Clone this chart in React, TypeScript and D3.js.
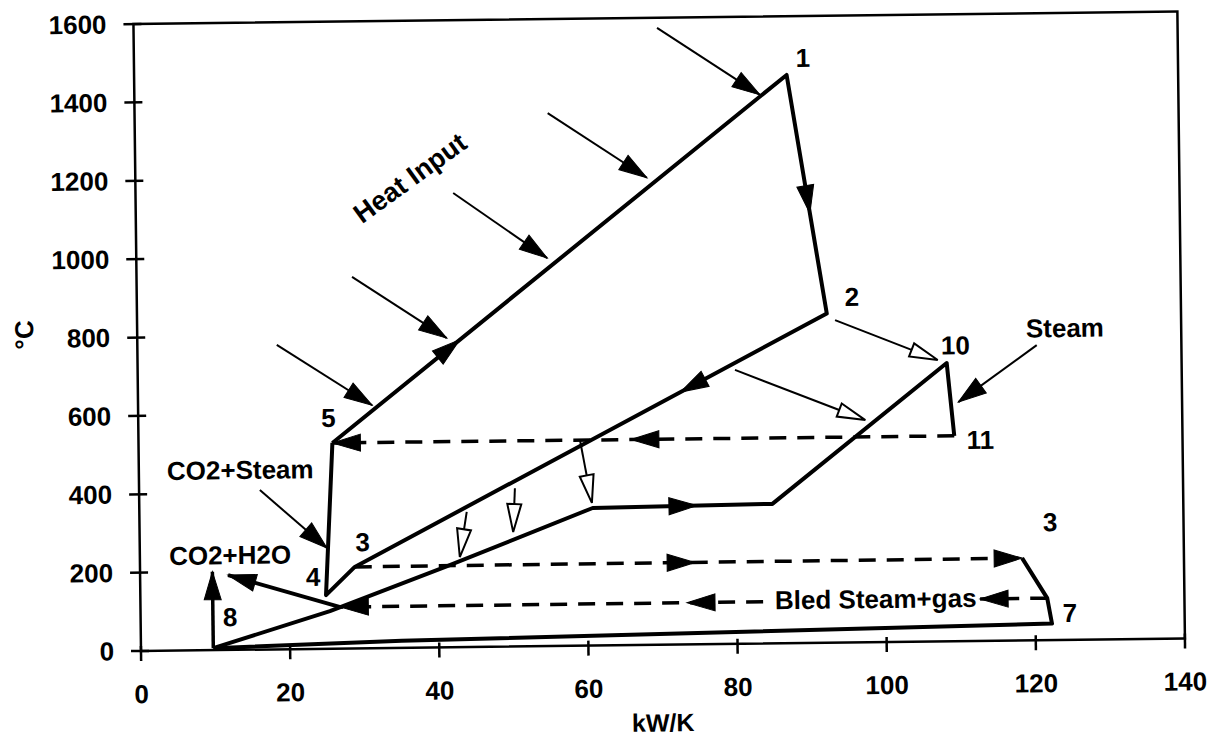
import { useEffect, useRef } from 'react';
import * as d3 from 'd3';

type Pt = [number, number];

const xTicks = [0, 20, 40, 60, 80, 100, 120, 140];
const yTicks = [0, 200, 400, 600, 800, 1000, 1200, 1400, 1600];

// gas loop: 5 -> 1 -> 2 -> 3 -> 4 -> 5
const gasLoop: Pt[] = [[26, 525], [87.5, 1450], [92.5, 840], [28.8, 208], [24.9, 137], [26, 525]];
// steam heating: 8 -> ... -> 10 -> 11
const steamLine: Pt[] = [[9.7, 5], [25.4, 96], [41.2, 207], [60.8, 351], [84.9, 356], [108.5, 710], [109.4, 524]];
// right 3 -> 7 -> 8
const returnLine: Pt[] = [[118.3, 210], [121.6, 107], [122.2, 42], [35, 18], [9.7, 5]];
// dashed: 11 -> 5, 3 -> 3, bled steam (two pieces round the label)
const dashedSteam: Pt[] = [[109.4, 524], [26, 525]];
const dashedMid: Pt[] = [[28.8, 208], [118.3, 210]];
const bledLine: Pt[] = [[121.6, 107], [112.6, 107], [83.5, 106.5], [26.8, 106]];
const co2h2o: Pt[] = [[26.8, 106], [11.8, 191]];
const riser8: Pt[] = [[9.7, 5], [9.7, 200]];

const heatArrows: [Pt, Pt][] = [
  [[70.2, 1574], [83.9, 1400]],
  [[55.4, 1360], [68.6, 1192]],
  [[42.6, 1159], [55.1, 990]],
  [[28.9, 948], [41.5, 789]],
  [[18.7, 777], [31.4, 620]],
];
const pointerArrows: [Pt, Pt][] = [
  [[120.6, 753], [110, 610]],   // Steam
  [[16.2, 407], [25.1, 257]],   // CO2+Steam
];
const hollowArrows: [Pt, Pt][] = [
  [[93.6, 823], [107.3, 718]],
  [[80.1, 699], [97.5, 567]],
  [[59.2, 525], [60.7, 364]],
  [[50.4, 404], [50.1, 292]],
  [[43.9, 345], [42.9, 230]],
];

// arrowheads sitting on the lines: segment + fraction where the tip is
const lineArrows: { a: Pt; b: Pt; t: number }[] = [
  { a: gasLoop[0], b: gasLoop[1], t: 0.28 },
  { a: gasLoop[1], b: gasLoop[2], t: 0.58 },
  { a: gasLoop[2], b: gasLoop[3], t: 0.31 },
  { a: steamLine[3], b: steamLine[4], t: 0.58 },
  { a: dashedSteam[0], b: dashedSteam[1], t: 0.52 },
  { a: dashedSteam[0], b: dashedSteam[1], t: 1 },
  { a: dashedMid[0], b: dashedMid[1], t: 0.51 },
  { a: dashedMid[0], b: dashedMid[1], t: 1 },
  { a: bledLine[0], b: bledLine[1], t: 1 },
  { a: bledLine[2], b: bledLine[3], t: 0.18 },
  { a: bledLine[2], b: bledLine[3], t: 1 },
  { a: co2h2o[0], b: co2h2o[1], t: 1 },
  { a: riser8[0], b: riser8[1], t: 1 },
];

const labels: { text: string; at: Pt }[] = [
  { text: '1', at: [89.7, 1493] },
  { text: '2', at: [95.9, 882] },
  { text: '10', at: [109.7, 755] },
  { text: '11', at: [112.9, 513] },
  { text: 'Steam', at: [124.4, 796] },
  { text: '5', at: [25.5, 589] },
  { text: 'CO2+Steam', at: [13.6, 459] },
  { text: '3', at: [29.9, 271] },
  { text: '4', at: [23.2, 184] },
  { text: 'CO2+H2O', at: [12.1, 242] },
  { text: '8', at: [12, 84] },
  { text: '3', at: [122.1, 301] },
  { text: '7', at: [124.6, 69] },
  { text: 'Bled Steam+gas', at: [98.6, 110] },
];

const FONT = '"Liberation Sans", Arial, Helvetica, sans-serif';

export default function App() {
  const svgRef = useRef<SVGSVGElement>(null);

  useEffect(() => {
    if (!svgRef.current) return;
    const svg = d3.select(svgRef.current);
    svg.selectAll('*').remove();

    const left = 141, right = 1185, top = 24, bottom = 651;
    const x = d3.scaleLinear().domain([0, 140]).range([left, right]);
    const y = d3.scaleLinear().domain([0, 1600]).range([bottom, top]);
    const px = (p: Pt): Pt => [x(p[0]), y(p[1])];

    // the scan is slightly tilted
    const g = svg.append('g').attr('transform', `rotate(-0.69 ${left} ${bottom})`);

    const line = d3.line<Pt>().x(d => x(d[0])).y(d => y(d[1]));

    const head = (tip: Pt, from: Pt, len: number, half: number, hollow = false) => {
      const dx = tip[0] - from[0], dy = tip[1] - from[1];
      const L = Math.hypot(dx, dy) || 1;
      const ux = dx / L, uy = dy / L;
      const bx = tip[0] - ux * len, by = tip[1] - uy * len;
      const pts = [tip, [bx - uy * half, by + ux * half], [bx + uy * half, by - ux * half]];
      g.append('polygon')
        .attr('points', pts.map(p => p.join(',')).join(' '))
        .attr('fill', hollow ? '#fff' : '#000')
        .attr('stroke', '#000')
        .attr('stroke-width', hollow ? 2 : 1)
        .attr('stroke-linejoin', 'miter');
      return [bx, by] as Pt;
    };

    // frame
    g.append('rect')
      .attr('x', left).attr('y', top)
      .attr('width', right - left).attr('height', bottom - top)
      .attr('fill', 'none').attr('stroke', '#000').attr('stroke-width', 2.5);

    // y ticks
    g.selectAll('.yt').data(yTicks).enter().append('line')
      .attr('x1', left - 10).attr('x2', left + 8)
      .attr('y1', d => y(d)).attr('y2', d => y(d))
      .attr('stroke', '#000').attr('stroke-width', 2.5);
    g.selectAll('.yl').data(yTicks).enter().append('text')
      .attr('x', left - 27).attr('y', d => y(d)).attr('dy', '0.35em')
      .attr('text-anchor', 'end')
      .attr('font-family', FONT).attr('font-weight', 'bold').attr('font-size', 26)
      .text(d => d);

    // x ticks
    g.selectAll('.xt').data(xTicks).enter().append('line')
      .attr('x1', d => x(d)).attr('x2', d => x(d))
      .attr('y1', bottom - 5).attr('y2', bottom + 10)
      .attr('stroke', '#000').attr('stroke-width', 2.5);
    g.selectAll('.xl').data(xTicks).enter().append('text')
      .attr('x', d => x(d)).attr('y', bottom + 43).attr('dy', '0.35em')
      .attr('text-anchor', 'middle')
      .attr('font-family', FONT).attr('font-weight', 'bold').attr('font-size', 26)
      .text(d => d);

    // axis titles
    g.append('text')
      .attr('x', x(69.9)).attr('y', bottom + 78).attr('dy', '0.35em')
      .attr('text-anchor', 'middle')
      .attr('font-family', FONT).attr('font-weight', 'bold').attr('font-size', 25)
      .text('kW/K');
    g.append('text')
      .attr('transform', `translate(${left - 113},${y(810)}) rotate(-90)`)
      .attr('dy', '0.35em')
      .attr('text-anchor', 'middle')
      .attr('font-family', FONT).attr('font-weight', 'bold').attr('font-size', 26)
      .text('°C');

    // solid process lines
    const solid = (pts: Pt[], w = 4) =>
      g.append('path').attr('d', line(pts)).attr('fill', 'none')
        .attr('stroke', '#000').attr('stroke-width', w)
        .attr('stroke-linejoin', 'round');
    solid(gasLoop);
    solid(steamLine);
    solid(returnLine);
    solid(co2h2o, 4);
    solid(riser8, 3.5);

    const dashed = (pts: Pt[]) =>
      g.append('path').attr('d', line(pts)).attr('fill', 'none')
        .attr('stroke', '#000').attr('stroke-width', 3.5)
        .attr('stroke-dasharray', '17 11');
    dashed(dashedSteam);
    dashed(dashedMid);
    dashed([bledLine[0], bledLine[1]]);
    dashed([bledLine[2], bledLine[3]]);

    lineArrows.forEach(({ a, b, t }) => {
      const pa = px(a), pb = px(b);
      const tip: Pt = [pa[0] + (pb[0] - pa[0]) * t, pa[1] + (pb[1] - pa[1]) * t];
      head(tip, pa, 28, 8.5);
    });

    // thin pointer arrows
    const thin = (from: Pt, to: Pt, len: number, half: number, hollow = false) => {
      const pf = px(from), pt = px(to);
      const base = head(pt, pf, len, half, hollow);
      g.insert('line', 'polygon')
        .attr('x1', pf[0]).attr('y1', pf[1])
        .attr('x2', hollow ? base[0] : pt[0]).attr('y2', hollow ? base[1] : pt[1])
        .attr('stroke', '#000').attr('stroke-width', 2);
    };
    heatArrows.forEach(([f, t]) => thin(f, t, 28, 8.5));
    pointerArrows.forEach(([f, t]) => thin(f, t, 28, 9));
    hollowArrows.forEach(([f, t]) => thin(f, t, 28, 7, true));

    // labels
    g.selectAll('.lab').data(labels).enter().append('text')
      .attr('x', d => x(d.at[0])).attr('y', d => y(d.at[1])).attr('dy', '0.35em')
      .attr('text-anchor', 'middle')
      .attr('font-family', FONT).attr('font-weight', 'bold').attr('font-size', 26)
      .text(d => d.text);

    g.append('text')
      .attr('transform', `translate(${x(36.8)},${y(1199)}) rotate(-35.3)`)
      .attr('dy', '0.35em')
      .attr('text-anchor', 'middle')
      .attr('font-family', FONT).attr('font-weight', 'bold').attr('font-size', 27)
      .text('Heat Input');
  }, []);

  return (
    <svg
      ref={svgRef}
      width={1218}
      height={740}
      style={{ position: 'absolute', left: 0, top: 0, background: '#fff' }}
    />
  );
}
